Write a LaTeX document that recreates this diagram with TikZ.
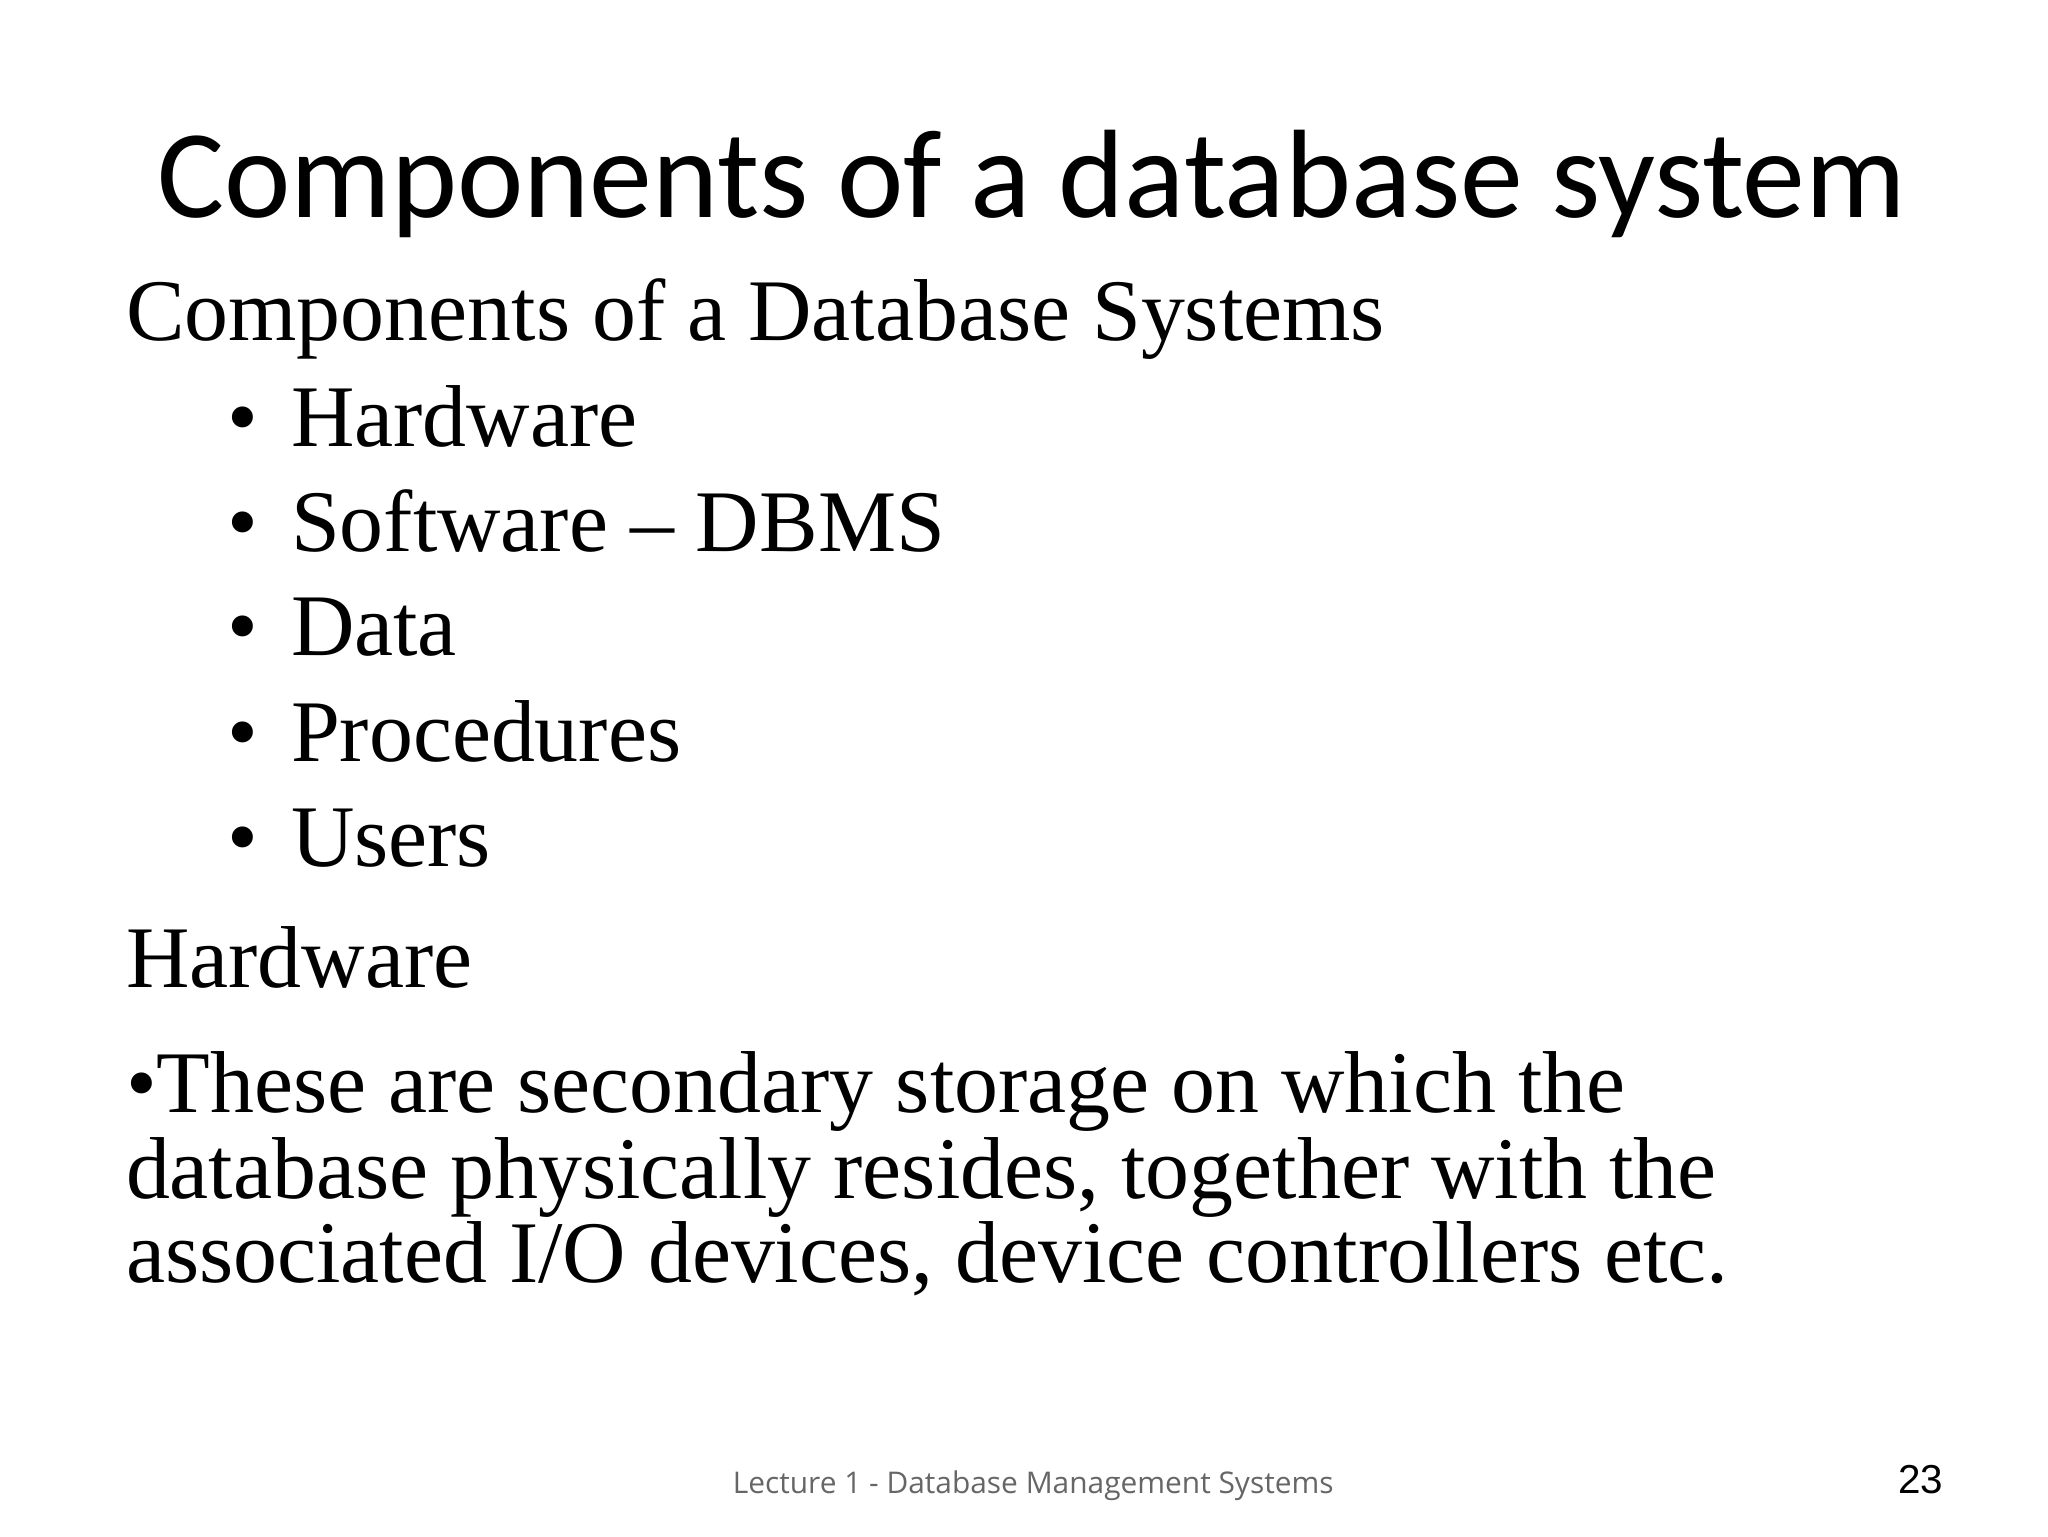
\documentclass[tikz,border=0pt]{standalone}
\usepackage{fontspec}
\setmainfont{Liberation Serif}
\newfontfamily\titlefont{Carlito}
\newfontfamily\footfont{Open Sans}
\newfontfamily\numfont{Liberation Sans}
\begin{document}
\begin{tikzpicture}[x=0.013196cm,y=-0.013196cm,
  body/.style={anchor=base west,inner sep=0,font=\fontsize{25}{30}\selectfont},
  bul/.style={anchor=base west,inner sep=0,font=\fontsize{25}{30}\selectfont}]
\useasboundingbox (0,0) rectangle (1552,1164);
\node[anchor=base,inner sep=0,font=\titlefont\fontsize{35.8}{42}\selectfont] (title) at (782,165) {Components of a database system};
\node[body] (h) at (95,258) {Components of a Database Systems};
\foreach \t/\y [count=\i] in {Hardware/338,Software -- DBMS/418,Data/497,Procedures/577,Users/657}{
  \node[bul] (b\i) at (172,\y) {\textbullet};
  \node[body] (i\i) at (220,\y) {\t};
}
\node[body] (hw) at (95,748) {Hardware};
\node[body] (p1) at (95,843) {\textbullet These are secondary storage on which the};
\node[body] (p2) at (95,908) {database physically resides, together with the};
\node[body] (p3) at (95,972) {associated I/O devices, device controllers etc.};
\node[anchor=base,inner sep=0,text=black!60,font=\footfont\fontsize{8.5}{10}\selectfont] (foot) at (783,1132) {Lecture 1 - Database Management Systems};
\node[anchor=base east,inner sep=0,font=\numfont\fontsize{11.5}{14}\selectfont] (num) at (1473,1132) {23};
\end{tikzpicture}
\end{document}
